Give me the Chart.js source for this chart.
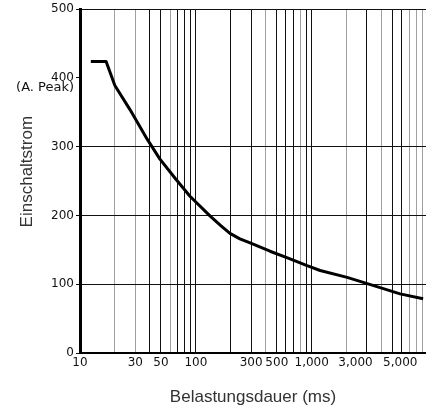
<!DOCTYPE html>
<html>
<head>
<meta charset="utf-8">
<script src="https://cdn.jsdelivr.net/npm/chart.js@4/dist/chart.umd.min.js"></script>
<style>
  body { margin: 0; background: #fff; }
  canvas { display: block; }
</style>
</head>
<body>
<canvas id="myChart" width="426" height="416"></canvas>
<script>
// Belastungsdauer (ms) vs Einschaltstrom (A. Peak)
var durationMs = [12.4, 16.8, 20, 27, 38, 49, 67, 89, 133, 165, 197, 240, 294, 437, 651, 912, 1183, 2023, 3899, 5794, 9164];
var inrushCurrent = [424, 424, 389, 354, 311, 282, 253, 228, 199, 185, 174, 166, 160, 148, 137, 127, 120, 110, 95, 86, 79];

var xTickLabels = [10, 30, 50, 100, 300, 500, 1000, 3000, 5000];
var xGridValues = [10, 20, 30, 40, 50, 60, 70, 80, 90,
                   100, 200, 300, 400, 500, 600, 700, 800, 900,
                   1000, 2000, 3000, 4000, 5000, 6000, 7000, 8000, 9000];
// lines that are only partly printed in the original
var xFaintLines = [20, 30, 60, 400, 800, 2000, 4000, 7000, 8000, 9000];
var yTicks = [0, 100, 200, 300, 400, 500];

var points = [];
for (var i = 0; i < durationMs.length; i++) {
    points.push({x: durationMs[i], y: inrushCurrent[i]});
}

// the printed labels for 3,000 and 5,000 sit off their grid lines
function xLabel(value) {
    var s = value.toLocaleString('en-US');
    if (value === 3000) return s + '      ';
    if (value === 5000) return '    ' + s;
    return s;
}

var unitLabel = {
    id: 'unitLabel',
    afterDraw: function(chart) {
        var ctx = chart.ctx;
        ctx.save();
        ctx.font = '13px "DejaVu Sans"';
        ctx.fillStyle = '#111';
        ctx.textAlign = 'right';
        ctx.textBaseline = 'middle';
        ctx.fillText('(A. Peak)', 74, 88);
        ctx.restore();
    }
};

function createChart() {
    var ctx = document.getElementById("myChart").getContext("2d");
    new Chart(ctx, {
        type: 'line',
        data: {
            datasets: [{
                data: points,
                borderColor: '#000',
                borderWidth: 3,
                borderJoinStyle: 'round',
                pointRadius: 0,
                fill: false,
                tension: 0
            }]
        },
        options: {
            responsive: false,
            animation: false,
            layout: { padding: { top: 6, right: 0, left: 0, bottom: 0 } },
            plugins: { legend: { display: false }, tooltip: { enabled: false } },
            scales: {
                x: {
                    type: 'logarithmic',
                    min: 10,
                    max: 9700,
                    afterBuildTicks: function(scale) {
                        scale.ticks = xGridValues.map(function(v) { return {value: v}; });
                    },
                    afterFit: function(scale) { scale.height = 63; },
                    ticks: {
                        autoSkip: false,
                        maxRotation: 0,
                        padding: 3,
                        color: '#111',
                        font: { family: 'DejaVu Sans', size: 12 },
                        callback: function(value) {
                            return xTickLabels.indexOf(value) >= 0 ? xLabel(value) : '';
                        }
                    },
                    grid: {
                        drawTicks: false,
                        lineWidth: 1,
                        color: function(c) {
                            return xFaintLines.indexOf(c.tick.value) >= 0 ? '#a0a0a0' : '#111';
                        }
                    },
                    border: { display: true, color: '#000', width: 2 },
                    title: {
                        display: true,
                        text: 'Belastungsdauer (ms)',
                        color: '#333',
                        font: { family: 'Liberation Sans', size: 17 },
                        padding: { top: 0, bottom: 8 }
                    }
                },
                y: {
                    min: 0,
                    max: 500,
                    afterBuildTicks: function(scale) {
                        scale.ticks = yTicks.map(function(v) { return {value: v}; });
                    },
                    afterFit: function(scale) { scale.width = 80; },
                    ticks: {
                        padding: 2,
                        color: '#111',
                        font: { family: 'DejaVu Sans', size: 12 }
                    },
                    grid: {
                        tickLength: 4,
                        tickColor: '#111',
                        lineWidth: 1,
                        color: function(c) {
                            return c.tick.value === 400 ? 'rgba(0,0,0,0)' : '#111';
                        }
                    },
                    border: { display: true, color: '#000', width: 3 },
                    title: {
                        display: true,
                        text: '    Einschaltstrom',
                        color: '#333',
                        font: { family: 'Liberation Sans', size: 17 },
                        padding: { top: 17, bottom: 0 }
                    }
                }
            }
        },
        plugins: [unitLabel]
    });
}
createChart();
</script>
</body>
</html>
